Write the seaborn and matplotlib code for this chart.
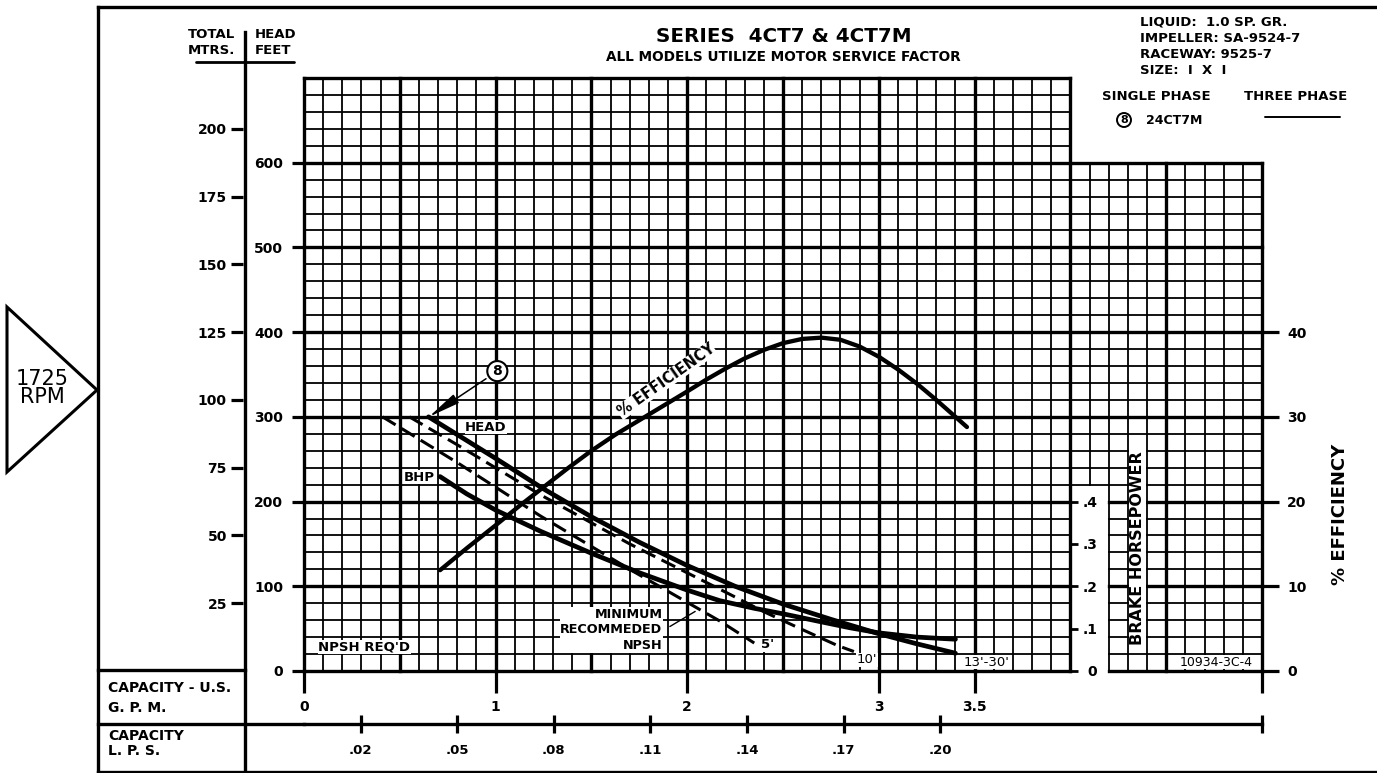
import numpy as np
import pandas as pd
import matplotlib.pyplot as plt
from matplotlib.patches import Polygon, Rectangle
import seaborn as sns

sns.set_theme(style="white", rc={"text.color": "black", "xtick.color": "black",
                                 "ytick.color": "black", "axes.edgecolor": "black"})
plt.rcParams['font.family'] = ['DejaVu Sans']
plt.rcParams['font.weight'] = 'bold'

# values (capacity in US GPM)
head_gpm = [0.65, 0.8, 1.0, 1.25, 1.5, 1.75, 2.0, 2.25, 2.5, 2.75, 3.0, 3.2, 3.4]
head_ft = [300, 279, 251, 215, 182, 152, 124.5, 100, 79, 61, 44, 32, 21]

bhp_gpm = [0.71, 0.85, 1.0, 1.234, 1.5, 1.75, 2.0, 2.17, 2.35, 2.5, 2.7, 2.85, 3.0, 3.2, 3.4]
bhp_hp = [0.459, 0.418, 0.38, 0.33, 0.278, 0.232, 0.191, 0.166, 0.148, 0.135, 0.116, 0.102,
          0.09, 0.08, 0.075]

eff_gpm = [0.71, 0.85, 1.0, 1.125, 1.25, 1.375, 1.5, 1.625, 1.75, 1.875, 2.0, 2.1, 2.2, 2.3,
           2.4, 2.5, 2.6, 2.7, 2.8, 2.9, 3.0, 3.1, 3.2, 3.3, 3.4, 3.46]
eff_pct = [11.9, 14.5, 17.2, 19.5, 21.7, 23.9, 26.0, 27.9, 29.6, 31.3, 33.0, 34.4, 35.7, 36.9,
           37.9, 38.7, 39.2, 39.35, 39.1, 38.3, 37.1, 35.6, 33.9, 32.0, 30.0, 28.8]

npsh5_gpm = [0.41, 0.8, 1.234, 1.7, 2.17, 2.35]
npsh5_ft = [300, 246, 183, 120, 59, 33]
npsh10_gpm = [0.55, 0.8, 1.234, 1.7, 2.175, 2.4, 2.59, 2.785, 2.87]
npsh10_ft = [300, 267, 208, 150, 96, 70, 50, 30, 23]

gpm_ticks = [0, 1, 2, 3, 3.5, 5]
gpm_labels = ['0', '1', '2', '3', '3.5', '']
feet_ticks = [0, 100, 200, 300, 400, 500, 600]
mtr_ticks = [25, 50, 75, 100, 125, 150, 175, 200]
eff_ticks = [0, 10, 20, 30, 40]
bhp_ticks = [0, 0.1, 0.2, 0.3, 0.4]
bhp_labels = ['0', '.1', '.2', '.3', '.4']
lps_ticks = [0.02, 0.05, 0.08, 0.11, 0.14, 0.17, 0.20, 0.30]
lps_labels = ['.02', '.05', '.08', '.11', '.14', '.17', '.20', '']

FT_PER_M = 3.2          # as drawn on the sheet
BHP_TO_FT = 500         # .1 hp per 50 ft
lps = lambda g: (g + 0.04) / 16.8

W, H = 1377, 773
fig = plt.figure(figsize=(W / 100, H / 100), dpi=100)

# sheet frame in pixel units
fa = fig.add_axes([0, 0, 1, 1])
fa.set_xlim(0, W)
fa.set_ylim(H, 0)
fa.axis('off')
k = dict(color='black', lw=2.4, solid_capstyle='projecting')
fa.plot([98, W], [7, 7], **k)
fa.plot([98, 98], [7, 772], **k)
fa.plot([98, W], [772, 772], **k)
fa.plot([245, 245], [32, 772], **k)
fa.plot([98, 245], [670, 670], **k)
fa.plot([98, 304], [724, 724], **k)
fa.plot([196, 294], [62, 62], color='black', lw=2)
fa.add_patch(Polygon([(7, 307), (7, 472), (97, 390)], closed=True, fill=False, lw=2.2, ec='black'))
fa.text(42, 388, "1725\nRPM", ha='center', va='center', fontsize=15, fontweight='normal', linespacing=0.85)

fa.text(188, 34, "TOTAL", ha='left', va='center', fontsize=9.5)
fa.text(188, 51, "MTRS.", ha='left', va='center', fontsize=9.5)
fa.text(255, 34, "HEAD", ha='left', va='center', fontsize=9.5)
fa.text(255, 51, "FEET", ha='left', va='center', fontsize=9.5)
fa.text(784, 37, "SERIES  4CT7 & 4CT7M", ha='center', va='center', fontsize=14.3)
fa.text(783, 57, "ALL MODELS UTILIZE MOTOR SERVICE FACTOR", ha='center', va='center', fontsize=9.8)
for i, line in enumerate(["LIQUID:  1.0 SP. GR.", "IMPELLER: SA-9524-7", "RACEWAY: 9525-7", "SIZE:  I  X  I"]):
    fa.text(1140, 22 + 16 * i, line, ha='left', va='center', fontsize=9.5)
fa.text(1102, 97, "SINGLE PHASE", ha='left', va='center', fontsize=9.5)
fa.text(1244, 97, "THREE PHASE", ha='left', va='center', fontsize=9.5)
fa.text(1124, 120, "8", ha='center', va='center', fontsize=8,
        bbox=dict(boxstyle='circle,pad=0.18', fc='white', ec='black', lw=1.4))
fa.text(1146, 120, "24CT7M", ha='left', va='center', fontsize=9)
fa.plot([1265, 1340], [117, 117], color='black', lw=1.4)
fa.text(108, 688, "CAPACITY - U.S.", ha='left', va='center', fontsize=10)
fa.text(108, 708, "G. P. M.", ha='left', va='center', fontsize=10)
fa.text(108, 736, "CAPACITY", ha='left', va='center', fontsize=10)
fa.text(108, 751, "L. P. S.", ha='left', va='center', fontsize=10)
fa.text(1340, 514, "% EFFICIENCY", ha='center', va='center', rotation=90, fontsize=13)

# main chart: head in feet vs capacity
ax = fig.add_axes([304 / W, 1 - 671 / H, 958 / W, 593 / H])
ax.set_facecolor('none')
ax.set_xlim(0, 5)
ax.set_ylim(0, 700)
for s in ax.spines.values():
    s.set_visible(False)

# graph-paper grid with its notches
for x in np.round(np.arange(0, 5.001, 0.1), 1):
    lw = 2.4 if abs(x * 2 - round(x * 2)) < 1e-6 else 1.3
    if x <= 4.0:
        segs = [(0, 700)]
    elif abs(x - 4.1) < 1e-6:
        segs = [(220, 600)]
    else:
        segs = [(0, 600)]
    for y0, y1 in segs:
        ax.plot([x, x], [y0, y1], color='black', lw=lw, solid_capstyle='projecting', clip_on=False, zorder=1)
for y in range(0, 701, 20):
    lw = 2.4 if y % 100 == 0 else 1.3
    if y > 600:
        segs = [(0, 4.0)]
    elif y < 220:
        segs = [(0, 4.0), (4.2, 5.0)]
    else:
        segs = [(0, 5.0)]
    for x0, x1 in segs:
        ax.plot([x0, x1], [y, y], color='black', lw=lw, solid_capstyle='projecting', clip_on=False, zorder=1)

ax.set_xticks(gpm_ticks, gpm_labels)
ax.tick_params(axis='x', bottom=True, direction='out', length=15.8, width=2.3, pad=5, labelsize=10)
ax.set_yticks(feet_ticks)
ax.tick_params(axis='y', left=True, direction='out', length=8.6, width=2.3, pad=6.5, labelsize=10)

head_df = pd.DataFrame({'gpm': head_gpm, 'ft': head_ft})
sns.lineplot(data=head_df, x='gpm', y='ft', ax=ax, color='black', lw=3.4, estimator=None, sort=False, zorder=3)
sns.lineplot(x=npsh5_gpm, y=npsh5_ft, ax=ax, color='black', lw=2.2, estimator=None, sort=False,
             linestyle=(0, (5, 2.3)), zorder=3)
sns.lineplot(x=npsh10_gpm, y=npsh10_ft, ax=ax, color='black', lw=2.2, estimator=None, sort=False,
             linestyle=(0, (5, 2.3)), zorder=3)
ax.set_xlabel('')
ax.set_ylabel('')

wb = dict(fc='white', ec='none', pad=0.5)
ax.add_patch(Rectangle((4.305, 25), 0.09, 239, fc='white', ec='none', zorder=2))
ax.text(4.35, 145, "BRAKE HORSEPOWER", rotation=90, ha='center', va='center', fontsize=11.5, zorder=3)
ax.text(0.95, 288, "HEAD", ha='center', va='center', fontsize=9.5, bbox=wb, zorder=2.5)
ax.text(0.60, 229, "BHP", ha='center', va='center', fontsize=9.5, bbox=wb, zorder=2.5)
ax.text(1.89, 343, "% EFFICIENCY", ha='center', va='center', rotation=35.2, rotation_mode='anchor',
        fontsize=10.5, bbox=dict(fc='white', ec='none', pad=0.2), zorder=2.5)
ax.text(1.871, 48.4, "MINIMUM\nRECOMMEDED\nNPSH", ha='right', va='center', multialignment='right',
        fontsize=9.2, linespacing=1.25, bbox=wb, zorder=2.5)
ax.annotate('', xy=(2.054, 72), xytext=(1.897, 50.8), arrowprops=dict(arrowstyle='-', lw=1, color='black'))
ax.text(2.42, 30.7, "5'", ha='center', va='center', fontsize=9.5, bbox=wb, zorder=2.5)
ax.text(2.94, 13, "10'", ha='center', va='center', fontsize=9.5, fontweight='normal', bbox=wb, zorder=2.5)
ax.text(3.56, 10.6, "13'-30'", ha='center', va='center', fontsize=9.5, fontweight='normal', bbox=wb, zorder=2.5)
ax.text(4.76, 10.6, "10934-3C-4", ha='center', va='center', fontsize=9, fontweight='normal', bbox=wb, zorder=2.5)
ax.text(0.314, 28.3, "NPSH REQ'D", ha='center', va='center', fontsize=9.5, bbox=wb, zorder=2.5)
ax.text(1.009, 354, "8", ha='center', va='center', fontsize=10,
        bbox=dict(boxstyle='circle,pad=0.22', fc='white', ec='black', lw=1.5), zorder=4)
ax.annotate('', xy=(0.652, 300), xytext=(0.95, 345), zorder=4,
            arrowprops=dict(arrowstyle='-|>,head_length=1.4,head_width=0.22', mutation_scale=14,
                            lw=1.1, color='black', shrinkA=0, shrinkB=0))

# % efficiency on the right
ax_eff = ax.twinx()
ax_eff.set_ylim(0, 70)
for s in ax_eff.spines.values():
    s.set_visible(False)
sns.lineplot(x=eff_gpm, y=eff_pct, ax=ax_eff, color='black', lw=3.1, estimator=None, sort=False)
ax_eff.set_yticks(eff_ticks)
ax_eff.tick_params(axis='y', right=True, direction='out', length=12, width=2.3, pad=6, labelsize=10)
ax_eff.set_ylabel('')

# brake horsepower scale in the notch
ax_bhp = ax.twinx()
ax_bhp.set_ylim(0, 700 / BHP_TO_FT)
for s in ax_bhp.spines.values():
    s.set_visible(False)
ax_bhp.spines['right'].set_position(('axes', 0.8))
sns.lineplot(x=bhp_gpm, y=bhp_hp, ax=ax_bhp, color='black', lw=3.4, estimator=None, sort=False)
ax_bhp.set_yticks(bhp_ticks, bhp_labels)
ax_bhp.tick_params(axis='y', right=True, direction='out', length=5.5, width=2.0, pad=14, labelsize=10)
for t in ax_bhp.get_yticklabels():
    t.set_ha('right')
ax_bhp.set_ylabel('')

# total head in metres
ax_m = ax.twinx()
ax_m.set_ylim(0, 700 / FT_PER_M)
for s in ax_m.spines.values():
    s.set_visible(False)
ax_m.yaxis.tick_left()
ax_m.spines['left'].set_position(('axes', -61 / 958))
ax_m.set_yticks(mtr_ticks)
ax_m.tick_params(axis='y', left=True, right=False, direction='out', length=8.6, width=2.3, pad=3,
                 labelsize=10)

# capacity in litres per second
ax_l = ax.twiny()
ax_l.set_xlim(lps(0), lps(5))
for s in ax_l.spines.values():
    s.set_visible(False)
ax_l.xaxis.tick_bottom()
ax_l.spines['bottom'].set_visible(True)
ax_l.spines['bottom'].set_linewidth(2.4)
ax_l.spines['bottom'].set_position(('axes', -53 / 593))
ax_l.set_xticks(lps_ticks, lps_labels)
ax_l.tick_params(axis='x', bottom=True, top=False, direction='inout', length=13, width=2.3, pad=8,
                 labelsize=9.5)

fig.savefig('out.png', dpi=100)
